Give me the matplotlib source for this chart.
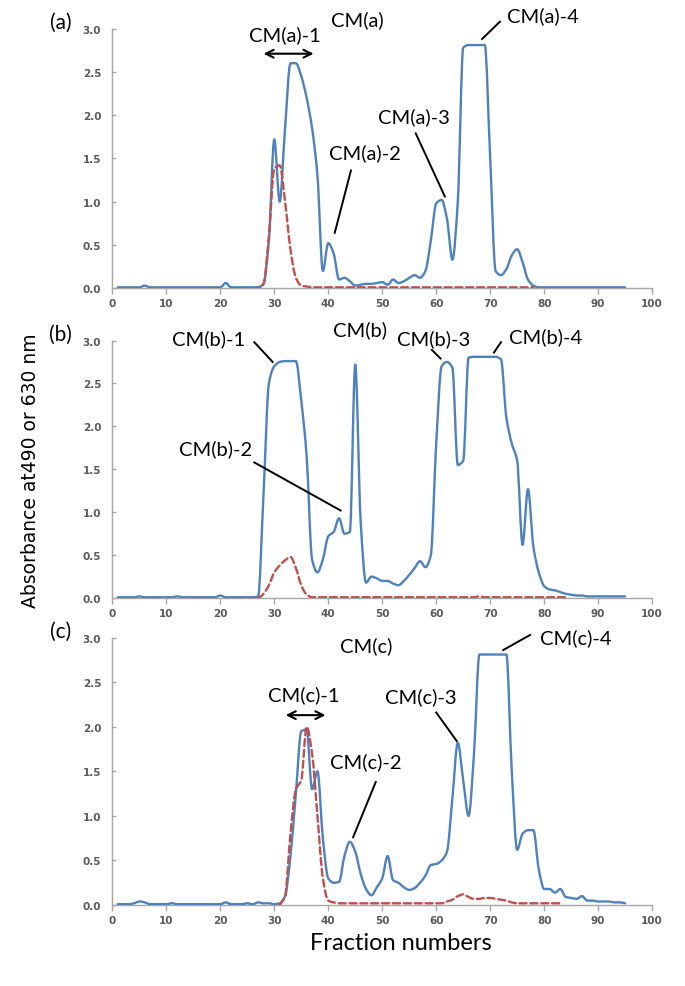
import numpy as np
import matplotlib
matplotlib.use("Agg")
import matplotlib.pyplot as plt
from matplotlib.path import Path
from matplotlib.patches import PathPatch

# ---------------- data ----------------
fractions = list(range(1, 96))

blue_a = [0.01, 0.01, 0.01, 0.01, 0.01, 0.03, 0.01, 0.01, 0.01, 0.01,
          0.01, 0.01, 0.01, 0.01, 0.01, 0.01, 0.01, 0.01, 0.01, 0.01,
          0.06, 0.01, 0.01, 0.01, 0.01, 0.01, 0.01, 0.05, 0.55, 1.72,
          1.00, 1.85, 2.60, 2.60, 2.45, 2.20, 1.85, 1.30, 0.20, 0.52,
          0.40, 0.10, 0.12, 0.08, 0.03, 0.04, 0.05, 0.05, 0.06, 0.07,
          0.04, 0.10, 0.06, 0.08, 0.12, 0.15, 0.12, 0.20, 0.55, 0.98,
          1.02, 0.80, 0.33, 1.00, 2.78, 2.81, 2.81, 2.81, 2.81, 1.50,
          0.20, 0.15, 0.22, 0.38, 0.45, 0.30, 0.10, 0.03, 0.01, 0.01,
          0.01, 0.01, 0.01, 0.01, 0.01, 0.01, 0.01, 0.01, 0.01, 0.01,
          0.01, 0.01, 0.01, 0.01, 0.01]
red_a_x = list(range(22, 79))
red_a = [0.0, 0.0, 0.0, 0.0, 0.0, 0.0, 0.05, 0.60, 1.38, 1.42,
         1.00, 0.45, 0.12, 0.03, 0.02] + [0.01] * 42

blue_b = [0.01, 0.01, 0.01, 0.01, 0.02, 0.01, 0.01, 0.01, 0.01, 0.01,
          0.01, 0.02, 0.01, 0.01, 0.01, 0.01, 0.01, 0.01, 0.01, 0.03,
          0.01, 0.01, 0.01, 0.01, 0.01, 0.01, 0.02, 1.20, 2.50, 2.70,
          2.75, 2.76, 2.76, 2.76, 2.30, 1.65, 0.45, 0.30, 0.45, 0.72,
          0.77, 0.93, 0.75, 0.77, 2.72, 0.90, 0.18, 0.25, 0.23, 0.20,
          0.20, 0.17, 0.15, 0.20, 0.27, 0.35, 0.43, 0.36, 0.50, 1.80,
          2.70, 2.75, 2.68, 1.55, 1.60, 2.80, 2.81, 2.81, 2.81, 2.81,
          2.81, 2.78, 2.10, 1.80, 1.60, 0.62, 1.27, 0.60, 0.30, 0.14,
          0.10, 0.09, 0.07, 0.05, 0.04, 0.03, 0.03, 0.02, 0.02, 0.02,
          0.02, 0.02, 0.02, 0.02, 0.02]
red_b_x = list(range(25, 85))
red_b = [0.0, 0.0, 0.0, 0.05, 0.15, 0.30, 0.38, 0.44, 0.48, 0.35,
         0.15, 0.04, 0.01] + [0.01] * 30 + [0.02] + [0.01] * 16

blue_c = [0.01, 0.01, 0.01, 0.02, 0.04, 0.03, 0.01, 0.01, 0.01, 0.01,
          0.02, 0.01, 0.01, 0.01, 0.01, 0.01, 0.01, 0.01, 0.01, 0.01,
          0.03, 0.01, 0.01, 0.01, 0.02, 0.01, 0.03, 0.02, 0.02, 0.01,
          0.02, 0.10, 0.55, 1.25, 1.95, 1.97, 1.30, 1.50, 0.75, 0.30,
          0.25, 0.26, 0.55, 0.71, 0.60, 0.35, 0.18, 0.11, 0.20, 0.30,
          0.55, 0.28, 0.25, 0.20, 0.17, 0.19, 0.25, 0.33, 0.45, 0.46,
          0.50, 0.60, 1.20, 1.82, 1.40, 1.00, 1.70, 2.81, 2.81, 2.81,
          2.81, 2.81, 2.81, 1.50, 0.62, 0.80, 0.84, 0.84, 0.40, 0.18,
          0.18, 0.14, 0.18, 0.09, 0.08, 0.07, 0.10, 0.05, 0.05, 0.04,
          0.04, 0.04, 0.03, 0.03, 0.02]
red_c_x = list(range(31, 84))
red_c = [0.0, 0.10, 0.80, 1.30, 1.40, 2.00, 1.70, 1.00, 0.30, 0.05,
         0.03, 0.02, 0.02, 0.02, 0.02, 0.02, 0.02, 0.02, 0.02, 0.02,
         0.02, 0.02, 0.02, 0.02, 0.02, 0.02, 0.02, 0.02, 0.02, 0.02,
         0.02, 0.04, 0.06, 0.10, 0.12, 0.09, 0.07, 0.07, 0.08, 0.08,
         0.07, 0.06, 0.05, 0.03, 0.02, 0.02, 0.02, 0.02, 0.02, 0.02,
         0.02, 0.02, 0.02]

x_ticks = list(range(0, 101, 10))
y_ticks = [0.0, 0.5, 1.0, 1.5, 2.0, 2.5, 3.0]

BLUE = "#4F81BD"
RED = "#C0504D"
GREY = "#A6A6A6"
TICKC = "#595959"
TXT_FONT = ["Lato", "DejaVu Sans"]


def smooth_line(ax, xs, ys, **kw):
    """Smoothed line drawn as cubic Bezier segments through the data points
    (monotone tangents, so no overshoot on flat tops)."""
    x = np.asarray(xs, float)
    y = np.asarray(ys, float)
    n = len(x)
    h = np.diff(x)
    d = np.diff(y) / h
    m = np.zeros(n)
    m[0], m[-1] = d[0], d[-1]
    for i in range(1, n - 1):
        if d[i - 1] * d[i] <= 0:
            m[i] = 0.0
        else:
            w1 = 2 * h[i] + h[i - 1]
            w2 = h[i] + 2 * h[i - 1]
            m[i] = (w1 + w2) / (w1 / d[i - 1] + w2 / d[i])
    verts = [(x[0], y[0])]
    codes = [Path.MOVETO]
    for i in range(n - 1):
        dx = h[i] / 3.0
        verts += [(x[i] + dx, y[i] + m[i] * dx),
                  (x[i + 1] - dx, y[i + 1] - m[i + 1] * dx),
                  (x[i + 1], y[i + 1])]
        codes += [Path.CURVE4] * 3
    patch = PathPatch(Path(verts, codes), fill=False, capstyle="round",
                      joinstyle="round", **kw)
    ax.add_patch(patch)
    return patch


fig = plt.figure(figsize=(6.85, 9.87), dpi=100)

panels = [
    ("(a)", blue_a, red_a_x, red_a, [0.164, 0.707, 0.788, 0.263]),
    ("(b)", blue_b, red_b_x, red_b, [0.164, 0.393, 0.788, 0.261]),
    ("(c)", blue_c, red_c_x, red_c, [0.164, 0.082, 0.788, 0.271]),
]
axes = []
for label, blue, rx, red, rect in panels:
    ax = fig.add_axes(rect)
    smooth_line(ax, fractions, blue, edgecolor=BLUE, lw=1.7, zorder=3)
    smooth_line(ax, rx, red, edgecolor=RED, lw=1.7, linestyle=(0, (3, 1.6)), zorder=4)
    ax.set_xlim(0, 100)
    ax.set_ylim(0, 3.0)
    ax.set_xticks(x_ticks)
    ax.set_yticks(y_ticks)
    ax.set_xticklabels([str(t) for t in x_ticks])
    ax.set_yticklabels([f"{t:.1f}" for t in y_ticks])
    for s in ("top", "right"):
        ax.spines[s].set_visible(False)
    for s in ("left", "bottom"):
        ax.spines[s].set_color(GREY)
        ax.spines[s].set_linewidth(1.0)
    ax.tick_params(axis="x", direction="out", length=4, width=1, color=GREY,
                   labelsize=7.5, labelcolor=TICKC, pad=3)
    ax.tick_params(axis="y", direction="in", length=3, width=1, color=GREY,
                   labelsize=7.5, labelcolor=TICKC, pad=8)
    for lab in ax.get_xticklabels() + ax.get_yticklabels():
        lab.set_fontweight("bold")
    ax.text(-9.6, 3.08, label, fontsize=15, family=TXT_FONT, ha="center",
            va="center", clip_on=False)
    axes.append(ax)

ax_a, ax_b, ax_c = axes
fs = 14.5

def note(ax, txt, tx, ty, x0=None, y0=None, x1=None, y1=None):
    ax.text(tx, ty, txt, fontsize=fs, family=TXT_FONT, ha="center", va="center",
            clip_on=False, zorder=6)
    if x0 is not None:
        ax.plot([x0, x1], [y0, y1], color="black", lw=1.4, clip_on=False, zorder=6)

# panel (a)
note(ax_a, "CM(a)", 45.3, 3.11)
note(ax_a, "CM(a)-1", 31.9, 2.93)
ax_a.annotate("", xy=(27.5, 2.71), xytext=(37.8, 2.71),
              arrowprops=dict(arrowstyle="<->", lw=1.5, color="black", mutation_scale=14),
              annotation_clip=False)
note(ax_a, "CM(a)-2", 46.8, 1.57, 44.2, 1.36, 41.2, 0.64)
note(ax_a, "CM(a)-3", 55.8, 1.99, 56.2, 1.79, 61.6, 1.06)
note(ax_a, "CM(a)-4", 79.8, 3.16, 71.8, 3.08, 68.5, 2.88)

# panel (b)
note(ax_b, "CM(b)", 45.8, 3.13)
note(ax_b, "CM(b)-1", 17.8, 3.03, 26.3, 2.98, 29.7, 2.75)
note(ax_b, "CM(b)-2", 19.2, 1.74, 26.3, 1.58, 42.3, 1.02)
note(ax_b, "CM(b)-3", 59.6, 3.03, 59.2, 2.89, 60.8, 2.79)
note(ax_b, "CM(b)-4", 80.3, 3.05, 72.0, 2.98, 70.7, 2.86)

# panel (c)
note(ax_c, "CM(c)", 47.0, 2.92)
note(ax_c, "CM(c)-1", 35.4, 2.37)
ax_c.annotate("", xy=(31.6, 2.13), xytext=(40.0, 2.13),
              arrowprops=dict(arrowstyle="<->", lw=1.5, color="black", mutation_scale=14),
              annotation_clip=False)
note(ax_c, "CM(c)-2", 47.0, 1.61, 48.8, 1.38, 44.6, 0.76)
note(ax_c, "CM(c)-3", 57.2, 2.34, 60.0, 2.16, 63.8, 1.84)
note(ax_c, "CM(c)-4", 85.8, 3.00, 77.4, 3.03, 72.4, 2.86)

fig.text(0.044, 0.523, "Absorbance at490 or 630 nm", rotation=90, ha="center",
         va="center", fontsize=13.5, family=["DejaVu Sans"])
fig.text(0.585, 0.044, "Fraction numbers", ha="center", va="center",
         fontsize=17, family=TXT_FONT)

fig.savefig("out.png", dpi=100)
